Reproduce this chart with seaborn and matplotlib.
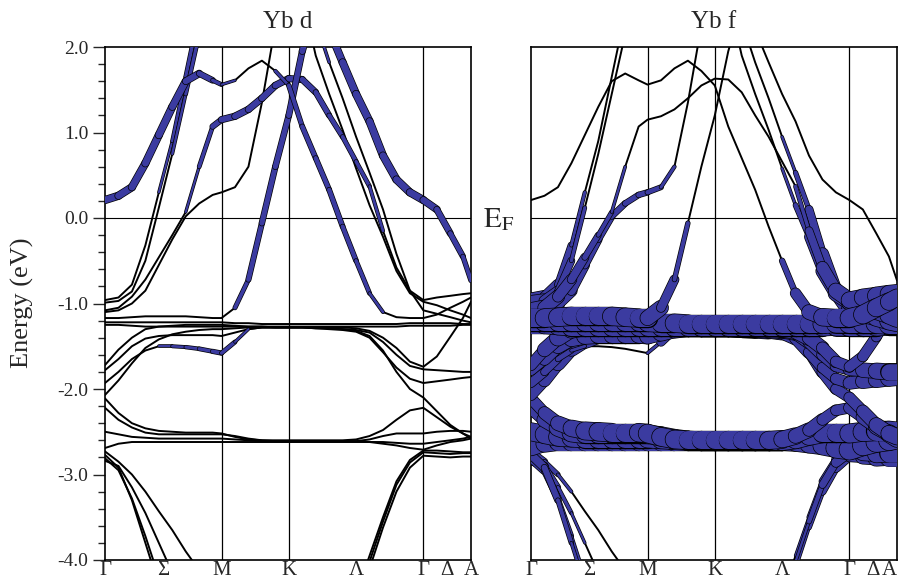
import numpy as np
import pandas as pd
import matplotlib
matplotlib.use("Agg")
import matplotlib.pyplot as plt
import seaborn as sns
from matplotlib.collections import LineCollection
from matplotlib.ticker import MultipleLocator, FormatStrFormatter

# k-path sample points (Gamma-M-K-Gamma-A)
K_PATH = [0.0, 0.1, 0.2, 0.3, 0.4, 0.5, 0.6, 0.7, 0.8, 0.866,
          0.966, 1.066, 1.166, 1.266, 1.366,
          1.466, 1.566, 1.666, 1.766, 1.866, 1.966, 2.066, 2.166, 2.266, 2.366,
          2.466, 2.566, 2.66, 2.72]
KPOINT_POS = [0.0, 0.433, 0.866, 1.366, 1.866, 2.366, 2.543, 2.72]
KPOINT_LABELS = ["Γ", "Σ", "M", "K", "Λ", "Γ", "Δ", "A"]
VLINES = [0.866, 1.366, 2.366]

# band energies (eV), one value per k sample
B1 = [0.21, 0.26, 0.36, 0.64, 0.97, 1.30, 1.60, 1.69, 1.61, 1.56,
      1.61, 1.75, 1.84, 1.72, 1.55,
      1.07, 0.70, 0.33, -0.10, -0.50, -0.88, -1.10, -1.16, -1.17, -1.17,
      -1.13, -1.05, -0.98, -0.93]
B_RISE = [-1.17, -1.17, -1.16, -1.15, -1.15, -1.15, -1.15, -1.16, -1.17, -1.17,
          -1.05, -0.72, -0.06, 0.60, 1.20,
          1.95, 2.50, 2.20, 1.82, 1.45, 1.13, 0.73, 0.45, 0.30, 0.21,
          0.10, -0.18, -0.45, -0.73]
B2 = [-0.96, -0.93, -0.78, -0.32, 0.30, 0.90, 1.65, 2.40, 2.60, 2.60,
      2.60, 2.60, 2.60, 2.60, 2.60,
      2.60, 2.60, 2.60, 2.60, 2.60, 2.60, 2.60, 2.60, 2.60, 2.60,
      2.60, 2.60, 2.60, 2.60]
B3 = [-0.99, -0.97, -0.86, -0.50, 0.12, 0.75, 1.45, 2.15, 2.60, 2.60,
      2.60, 2.60, 2.60, 2.60, 2.60,
      2.60, 2.30, 1.82, 1.40, 0.95, 0.53, 0.10, -0.42, -0.85, -1.08,
      -1.12, -1.16, -1.20, -1.22]
B4 = [-1.08, -1.05, -0.92, -0.72, -0.46, -0.20, 0.07, 0.60, 1.07, 1.15,
      1.19, 1.27, 1.40, 1.55, 1.63,
      1.62, 1.47, 1.20, 0.95, 0.66, 0.37, -0.15, -0.58, -0.85, -0.96,
      -0.93, -0.91, -0.89, -0.88]
B5 = [-1.10, -1.08, -1.00, -0.85, -0.55, -0.25, 0.02, 0.17, 0.27, 0.30,
      0.36, 0.60, 1.35, 2.25, 2.60,
      2.60, 1.90, 1.45, 1.03, 0.58, 0.15, -0.22, -0.62, -0.88, -0.98,
      -1.02, -1.08, -1.13, -1.17]
F1 = [-1.22, -1.22, -1.22, -1.22, -1.22, -1.22, -1.22, -1.22, -1.22, -1.22,
      -1.23, -1.23, -1.24, -1.24, -1.24,
      -1.24, -1.24, -1.24, -1.24, -1.24, -1.24, -1.24, -1.24, -1.23, -1.23,
      -1.23, -1.23, -1.24, -1.24]
F2 = [-1.25, -1.25, -1.26, -1.27, -1.27, -1.27, -1.27, -1.27, -1.27, -1.27,
      -1.27, -1.27, -1.27, -1.27, -1.27,
      -1.27, -1.27, -1.27, -1.27, -1.27, -1.27, -1.27, -1.27, -1.26, -1.26,
      -1.26, -1.26, -1.25, -1.25]
M4 = [-1.72, -1.54, -1.40, -1.30, -1.27, -1.26, -1.25, -1.25, -1.25, -1.25,
      -1.26, -1.27, -1.27, -1.28, -1.28,
      -1.28, -1.28, -1.28, -1.28, -1.29, -1.32, -1.40, -1.52, -1.68, -1.74,
      -1.62, -1.39, -1.17, -0.98]
M5 = [-1.78, -1.65, -1.50, -1.41, -1.38, -1.37, -1.37, -1.37, -1.37, -1.38,
      -1.34, -1.30, -1.28, -1.28, -1.28,
      -1.28, -1.29, -1.29, -1.30, -1.31, -1.34, -1.45, -1.60, -1.73, -1.77,
      -1.78, -1.79, -1.80, -1.80]
M6 = [-1.93, -1.80, -1.65, -1.55, -1.50, -1.50, -1.51, -1.53, -1.56, -1.58,
      -1.45, -1.30, -1.28, -1.28, -1.28,
      -1.28, -1.29, -1.30, -1.31, -1.33, -1.40, -1.57, -1.75, -1.88, -1.93,
      -1.91, -1.89, -1.87, -1.86]
M7 = [-2.07, -1.90, -1.70, -1.52, -1.42, -1.36, -1.33, -1.31, -1.30, -1.30,
      -1.29, -1.28, -1.28, -1.28, -1.28,
      -1.28, -1.28, -1.29, -1.30, -1.32, -1.38, -1.55, -1.80, -2.00, -2.10,
      -2.26, -2.42, -2.52, -2.56]
L1 = [-2.11, -2.28, -2.40, -2.46, -2.49, -2.50, -2.51, -2.51, -2.51, -2.52,
      -2.56, -2.59, -2.60, -2.60, -2.60,
      -2.60, -2.60, -2.60, -2.60, -2.59, -2.55, -2.48, -2.36, -2.25, -2.22,
      -2.33, -2.44, -2.52, -2.58]
L2 = [-2.22, -2.36, -2.45, -2.51, -2.53, -2.53, -2.53, -2.53, -2.53, -2.53,
      -2.55, -2.58, -2.60, -2.61, -2.61,
      -2.61, -2.61, -2.61, -2.61, -2.61, -2.59, -2.55, -2.52, -2.52, -2.52,
      -2.50, -2.49, -2.49, -2.50]
L3 = [-2.50, -2.53, -2.56, -2.57, -2.58, -2.58, -2.58, -2.58, -2.58, -2.58,
      -2.59, -2.60, -2.61, -2.61, -2.61,
      -2.61, -2.61, -2.61, -2.61, -2.61, -2.62, -2.64, -2.66, -2.69, -2.71,
      -2.66, -2.62, -2.60, -2.58]
L4 = [-2.69, -2.64, -2.62, -2.62, -2.62, -2.62, -2.62, -2.62, -2.62, -2.62,
      -2.62, -2.62, -2.62, -2.62, -2.62,
      -2.62, -2.62, -2.62, -2.62, -2.62, -2.62, -2.62, -2.63, -2.64, -2.64,
      -2.62, -2.60, -2.58, -2.56]
D1 = [-2.77, -2.92, -3.30, -3.80, -4.30, -4.60, -4.60, -4.60, -4.60, -4.60,
      -4.60, -4.60, -4.60, -4.60, -4.60,
      -4.60, -4.60, -4.60, -4.60, -4.60, -4.02, -3.55, -3.12, -2.86, -2.74,
      -2.75, -2.76, -2.75, -2.75]
D2 = [-2.81, -2.95, -3.28, -3.72, -4.20, -4.60, -4.60, -4.60, -4.60, -4.60,
      -4.60, -4.60, -4.60, -4.60, -4.60,
      -4.60, -4.60, -4.60, -4.60, -4.60, -4.10, -3.62, -3.20, -2.92, -2.78,
      -2.79, -2.80, -2.79, -2.79]
D3 = [-2.84, -2.90, -3.15, -3.45, -3.80, -4.15, -4.60, -4.60, -4.60, -4.60,
      -4.60, -4.60, -4.60, -4.60, -4.60,
      -4.60, -4.60, -4.60, -4.60, -4.40, -3.95, -3.50, -3.08, -2.83, -2.72,
      -2.72, -2.73, -2.74, -2.74]
D4 = [-2.73, -2.85, -3.00, -3.20, -3.43, -3.65, -3.90, -4.12, -4.30, -4.60,
      -4.60, -4.60, -4.60, -4.60, -4.60,
      -4.60, -4.60, -4.60, -4.60, -4.60, -4.60, -4.60, -4.60, -4.60, -4.60,
      -4.60, -4.60, -4.60, -4.60]

# Yb d character (fat-band weight) per k sample
WD_B1 = [0.34, 0.34, 0.34, 0.34, 0.34, 0.34, 0.32, 0.30, 0.22, 0.12,
         0.08, 0.06, 0.06, 0.10, 0.18,
         0.22, 0.22, 0.22, 0.22, 0.20, 0.16, 0.10, 0.05, 0.04, 0.04,
         0.04, 0.04, 0.04, 0.04]
WD_B_RISE = [0.03, 0.03, 0.03, 0.03, 0.03, 0.03, 0.03, 0.03, 0.03, 0.04,
             0.14, 0.22, 0.25, 0.26, 0.26,
             0.28, 0.30, 0.32, 0.34, 0.34, 0.34, 0.34, 0.34, 0.34, 0.34,
             0.30, 0.26, 0.22, 0.18]
WD_B2 = [0.03, 0.03, 0.04, 0.06, 0.08, 0.12, 0.16, 0.18, 0.18, 0.18,
         0.18, 0.18, 0.18, 0.18, 0.18,
         0.18, 0.18, 0.18, 0.18, 0.18, 0.18, 0.18, 0.18, 0.18, 0.18,
         0.18, 0.18, 0.18, 0.18]
WD_B3 = [0.03, 0.03, 0.04, 0.05, 0.07, 0.10, 0.14, 0.18, 0.18, 0.18,
         0.18, 0.18, 0.18, 0.18, 0.18,
         0.18, 0.14, 0.08, 0.06, 0.05, 0.05, 0.05, 0.04, 0.03, 0.03,
         0.03, 0.03, 0.03, 0.03]
WD_B4 = [0.03, 0.03, 0.03, 0.04, 0.05, 0.06, 0.08, 0.12, 0.22, 0.28,
         0.30, 0.30, 0.30, 0.30, 0.30,
         0.28, 0.26, 0.22, 0.20, 0.18, 0.16, 0.11, 0.06, 0.04, 0.03,
         0.03, 0.03, 0.03, 0.03]
WD_B5 = [0.03, 0.03, 0.03, 0.04, 0.05, 0.05, 0.05, 0.05, 0.05, 0.05,
         0.05, 0.06, 0.08, 0.10, 0.10,
         0.10, 0.08, 0.06, 0.05, 0.05, 0.05, 0.04, 0.03, 0.03, 0.03,
         0.03, 0.03, 0.03, 0.03]
WD_FLAT = [0.02, 0.02, 0.02, 0.02, 0.02, 0.02, 0.02, 0.02, 0.02, 0.02,
           0.02, 0.02, 0.02, 0.02, 0.02,
           0.02, 0.02, 0.02, 0.02, 0.02, 0.02, 0.02, 0.02, 0.02, 0.02,
           0.02, 0.02, 0.02, 0.02]
WD_M6 = [0.03, 0.04, 0.06, 0.08, 0.10, 0.12, 0.14, 0.16, 0.18, 0.20,
         0.15, 0.06, 0.03, 0.02, 0.02,
         0.02, 0.02, 0.02, 0.02, 0.02, 0.02, 0.03, 0.03, 0.03, 0.03,
         0.03, 0.03, 0.03, 0.03]

# Yb f character per k sample
WF_B1 = [0.03, 0.03, 0.03, 0.03, 0.03, 0.03, 0.03, 0.03, 0.03, 0.03,
         0.03, 0.03, 0.03, 0.03, 0.03,
         0.03, 0.03, 0.03, 0.04, 0.12, 0.38, 0.62, 0.80, 0.90, 0.90,
         0.90, 0.90, 0.85, 0.80]
WF_B_RISE = [0.90, 0.90, 0.90, 0.90, 0.90, 0.90, 0.90, 0.90, 0.90, 0.90,
             0.55, 0.30, 0.10, 0.04, 0.03,
             0.03, 0.03, 0.03, 0.03, 0.03, 0.03, 0.03, 0.03, 0.03, 0.03,
             0.03, 0.04, 0.06, 0.10]
WF_B2 = [0.75, 0.62, 0.42, 0.20, 0.09, 0.05, 0.04, 0.03, 0.03, 0.03,
         0.03, 0.03, 0.03, 0.03, 0.03,
         0.03, 0.03, 0.03, 0.03, 0.03, 0.03, 0.03, 0.03, 0.03, 0.03,
         0.03, 0.03, 0.03, 0.03]
WF_B3 = [0.75, 0.62, 0.42, 0.22, 0.11, 0.05, 0.04, 0.03, 0.03, 0.03,
         0.03, 0.03, 0.03, 0.03, 0.03,
         0.03, 0.03, 0.04, 0.05, 0.08, 0.14, 0.26, 0.50, 0.68, 0.78,
         0.80, 0.85, 0.90, 0.90]
WF_B4 = [0.78, 0.70, 0.58, 0.45, 0.32, 0.22, 0.15, 0.08, 0.04, 0.03,
         0.03, 0.03, 0.03, 0.03, 0.03,
         0.03, 0.03, 0.03, 0.04, 0.05, 0.10, 0.24, 0.50, 0.68, 0.78,
         0.80, 0.85, 0.85, 0.85]
WF_B5 = [0.78, 0.70, 0.62, 0.50, 0.40, 0.33, 0.28, 0.26, 0.25, 0.25,
         0.20, 0.10, 0.05, 0.03, 0.03,
         0.03, 0.03, 0.04, 0.05, 0.08, 0.14, 0.30, 0.55, 0.72, 0.78,
         0.80, 0.85, 0.90, 0.90]
WF_F1 = [0.90, 0.90, 0.90, 0.90, 0.90, 0.90, 0.90, 0.90, 0.90, 0.90,
         0.90, 0.90, 0.90, 0.90, 0.90,
         0.90, 0.90, 0.90, 0.90, 0.90, 0.90, 0.90, 0.90, 0.95, 1.00,
         1.00, 1.00, 1.00, 1.00]
WF_F2 = [0.85, 0.85, 0.90, 0.90, 0.90, 0.90, 0.90, 0.90, 0.90, 0.90,
         0.90, 0.90, 0.90, 0.90, 0.90,
         0.90, 0.90, 0.90, 0.90, 0.90, 0.90, 0.90, 0.90, 0.95, 1.00,
         1.00, 1.00, 1.00, 1.00]
WF_M4 = [0.45, 0.60, 0.75, 0.85, 0.90, 0.90, 0.90, 0.90, 0.90, 0.90,
         0.90, 0.90, 0.90, 0.90, 0.90,
         0.90, 0.90, 0.90, 0.90, 0.85, 0.80, 0.70, 0.60, 0.55, 0.50,
         0.50, 0.50, 0.45, 0.45]
WF_M5 = [0.45, 0.55, 0.65, 0.75, 0.80, 0.80, 0.80, 0.80, 0.80, 0.75,
         0.80, 0.85, 0.90, 0.90, 0.90,
         0.90, 0.90, 0.90, 0.85, 0.80, 0.70, 0.60, 0.55, 0.55, 0.55,
         0.65, 0.75, 0.80, 0.85]
WF_M6 = [0.45, 0.40, 0.30, 0.18, 0.10, 0.07, 0.05, 0.05, 0.05, 0.05,
         0.20, 0.60, 0.85, 0.90, 0.90,
         0.90, 0.90, 0.90, 0.85, 0.75, 0.65, 0.55, 0.50, 0.50, 0.55,
         0.65, 0.75, 0.80, 0.85]
WF_M7 = [0.50, 0.55, 0.65, 0.75, 0.85, 0.90, 0.90, 0.90, 0.90, 0.90,
         0.90, 0.90, 0.90, 0.90, 0.90,
         0.90, 0.90, 0.90, 0.85, 0.80, 0.70, 0.60, 0.55, 0.50, 0.50,
         0.55, 0.65, 0.75, 0.80]
WF_L1 = [0.50, 0.55, 0.65, 0.75, 0.85, 0.90, 0.90, 0.90, 0.90, 0.90,
         0.90, 0.90, 0.90, 0.90, 0.90,
         0.90, 0.90, 0.90, 0.90, 0.85, 0.75, 0.65, 0.55, 0.50, 0.50,
         0.60, 0.70, 0.80, 0.90]
WF_L2 = [0.55, 0.65, 0.80, 0.90, 0.90, 0.90, 0.90, 0.90, 0.90, 0.90,
         0.90, 0.90, 0.90, 0.90, 0.90,
         0.90, 0.90, 0.90, 0.90, 0.90, 0.90, 0.90, 0.90, 0.90, 0.90,
         0.95, 0.95, 0.95, 0.95]
WF_L3 = [0.85, 0.90, 0.90, 0.90, 0.90, 0.90, 0.90, 0.90, 0.90, 0.90,
         0.90, 0.90, 0.90, 0.90, 0.90,
         0.90, 0.90, 0.90, 0.90, 0.90, 0.90, 0.90, 0.90, 0.95, 1.00,
         1.00, 1.00, 1.00, 1.00]
WF_L4 = [0.70, 0.80, 0.85, 0.85, 0.85, 0.85, 0.85, 0.85, 0.85, 0.85,
         0.85, 0.85, 0.85, 0.85, 0.85,
         0.85, 0.85, 0.85, 0.85, 0.85, 0.85, 0.85, 0.85, 0.90, 0.95,
         0.95, 0.95, 0.95, 0.95]
WF_D1 = [0.45, 0.35, 0.25, 0.15, 0.10, 0.05, 0.05, 0.05, 0.05, 0.05,
         0.05, 0.05, 0.05, 0.05, 0.05,
         0.05, 0.05, 0.05, 0.05, 0.05, 0.08, 0.15, 0.28, 0.40, 0.50,
         0.65, 0.80, 0.90, 0.95]
WF_D2 = [0.45, 0.35, 0.25, 0.15, 0.10, 0.05, 0.05, 0.05, 0.05, 0.05,
         0.05, 0.05, 0.05, 0.05, 0.05,
         0.05, 0.05, 0.05, 0.05, 0.05, 0.08, 0.15, 0.28, 0.40, 0.50,
         0.65, 0.80, 0.90, 0.95]
WF_D3 = [0.40, 0.30, 0.20, 0.12, 0.08, 0.05, 0.05, 0.05, 0.05, 0.05,
         0.05, 0.05, 0.05, 0.05, 0.05,
         0.05, 0.05, 0.05, 0.05, 0.05, 0.08, 0.12, 0.25, 0.38, 0.45,
         0.60, 0.75, 0.85, 0.90]
WF_D4 = [0.35, 0.25, 0.15, 0.10, 0.06, 0.04, 0.04, 0.04, 0.04, 0.04,
         0.04, 0.04, 0.04, 0.04, 0.04,
         0.04, 0.04, 0.04, 0.04, 0.04, 0.04, 0.04, 0.04, 0.04, 0.04,
         0.04, 0.04, 0.04, 0.04]

BAND_NAMES = ["D4", "D3", "D2", "D1", "L4", "L3", "L2", "L1", "M7", "M6", "M5", "M4",
              "F2", "F1", "B2", "B3", "B5", "B4", "B_RISE", "B1"]
BANDS = [D4, D3, D2, D1, L4, L3, L2, L1, M7, M6, M5, M4, F2, F1, B2, B3, B5, B4, B_RISE, B1]
W_D = [WD_FLAT, WD_FLAT, WD_FLAT, WD_FLAT, WD_FLAT, WD_FLAT, WD_FLAT, WD_FLAT, WD_FLAT, WD_M6,
       WD_FLAT, WD_FLAT, WD_FLAT, WD_FLAT, WD_B2, WD_B3, WD_B5, WD_B4, WD_B_RISE, WD_B1]
W_F = [WF_D4, WF_D3, WF_D2, WF_D1, WF_L4, WF_L3, WF_L2, WF_L1, WF_M7, WF_M6, WF_M5, WF_M4,
       WF_F2, WF_F1, WF_B2, WF_B3, WF_B5, WF_B4, WF_B_RISE, WF_B1]

BLUE = "#3b3ba0"
FAT_SCALE = 14.4   # points of band width for weight 1


def fat_segments(weights):
    segs, widths, colors = [], [], []
    for band, w in zip(BANDS, weights):
        for i in range(len(K_PATH) - 1):
            wm = 0.5 * (w[i] + w[i + 1])
            if wm < 0.1:
                continue
            seg = [(K_PATH[i], band[i]), (K_PATH[i + 1], band[i + 1])]
            segs += [seg, seg]
            widths += [FAT_SCALE * wm + 1.0, FAT_SCALE * wm]
            colors += ["black", BLUE]
    return segs, widths, colors


def main():
    rows = []
    for name, band in zip(BAND_NAMES, BANDS):
        for k, e in zip(K_PATH, band):
            rows.append({"band": name, "k": k, "E": e})
    df = pd.DataFrame(rows)

    sns.set_style("white")
    plt.rcParams["font.family"] = "serif"
    plt.rcParams["font.serif"] = ["Liberation Serif", "DejaVu Serif"]
    plt.rcParams["mathtext.fontset"] = "stix"
    plt.rcParams["axes.unicode_minus"] = False

    fig = plt.figure(figsize=(9.01, 5.8), dpi=100)
    ax_d = fig.add_axes([105 / 901, 20 / 580, 366 / 901, 513 / 580])
    ax_f = fig.add_axes([531 / 901, 20 / 580, 366 / 901, 513 / 580])

    for ax, weights, title in [(ax_d, W_D, "Yb d"), (ax_f, W_F, "Yb f")]:
        for x in VLINES:
            ax.axvline(x, color="black", lw=0.9, zorder=1)
        ax.axhline(0.0, color="black", lw=0.8, zorder=1)
        sns.lineplot(data=df, x="k", y="E", units="band", estimator=None, sort=False,
                     color="black", lw=1.4, ax=ax, legend=False, zorder=2)
        segs, widths, colors = fat_segments(weights)
        lc = LineCollection(segs, linewidths=widths, colors=colors,
                            capstyle="round", zorder=3)
        ax.add_collection(lc)

        ax.set_xlim(0, K_PATH[-1])
        ax.set_ylim(-4.0, 2.0)
        ax.set_xticks(KPOINT_POS)
        ax.set_xticklabels(KPOINT_LABELS)
        ax.tick_params(axis="x", length=0, labelsize=15, pad=1)
        ax.set_xlabel("")
        ax.set_ylabel("")
        ax.set_title(title, fontsize=18, pad=14)
        for sp in ax.spines.values():
            sp.set_color("black")
            sp.set_linewidth(1.2)

    # last label on the right panel sits against the figure edge
    ax_f.get_xticklabels()[-1].set_horizontalalignment("right")

    ax_d.yaxis.set_major_locator(MultipleLocator(1.0))
    ax_d.yaxis.set_minor_locator(MultipleLocator(0.2))
    ax_d.yaxis.set_major_formatter(FormatStrFormatter("%.1f"))
    ax_d.tick_params(axis="y", which="major", left=True, direction="out",
                     length=9, width=1.0, labelsize=14, pad=3)
    ax_d.tick_params(axis="y", which="minor", left=True, direction="out",
                     length=5, width=1.0)
    ax_f.set_yticks([])

    fig.text(22 / 901, 1 - 303 / 580, "Energy (eV)", rotation=90, fontsize=19,
             ha="center", va="center")
    fig.text(499 / 901, 1 - 220 / 580, r"$\mathrm{E}_\mathrm{F}$", fontsize=21,
             ha="center", va="center")

    fig.savefig("out.png", dpi=100)


if __name__ == "__main__":
    main()
